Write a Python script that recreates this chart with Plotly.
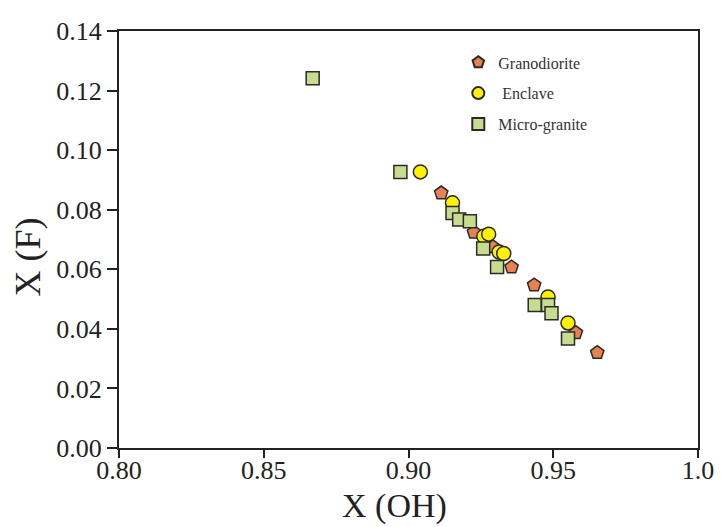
import plotly.graph_objects as go

# Granodiorite (pentagons)
grano_oh = [0.9113, 0.9226, 0.9272, 0.9292, 0.9356, 0.9434, 0.9578, 0.9652]
grano_f = [0.0856, 0.0724, 0.0681, 0.0675, 0.0607, 0.0547, 0.0387, 0.0320]

# Enclave (circles)
encl_oh = [0.9041, 0.9152, 0.9260, 0.9277, 0.9313, 0.9329, 0.9482, 0.9551]
encl_f = [0.0927, 0.0823, 0.0711, 0.0718, 0.0658, 0.0653, 0.0507, 0.0420]

# Micro-granite (squares)
micro_oh = [0.8669, 0.8972, 0.9152, 0.9175, 0.9212, 0.9258, 0.9306,
            0.9436, 0.9482, 0.9494, 0.9551]
micro_f = [0.1241, 0.0927, 0.0789, 0.0767, 0.0761, 0.0670, 0.0608,
           0.0480, 0.0480, 0.0452, 0.0368]

x_ticks = [0.80, 0.85, 0.90, 0.95, 1.0]
x_ticklabels = ["0.80", "0.85", "0.90", "0.95", "1.0"]
y_ticks = [0.00, 0.02, 0.04, 0.06, 0.08, 0.10, 0.12, 0.14]

serif = "Liberation Serif, Times New Roman, serif"
edge = dict(color="#2a2a2a", width=1.5)

fig = go.Figure()
fig.add_trace(go.Scatter(
    x=grano_oh, y=grano_f, mode="markers", name="Granodiorite",
    legendgroup="g1",
    marker=dict(symbol="pentagon", size=14, color="#E9804F", line=edge),
))
fig.add_trace(go.Scatter(
    x=encl_oh, y=encl_f, mode="markers", name=" Enclave",
    legendgroup="g2",
    marker=dict(symbol="circle", size=14, color="#FFF200", line=edge),
))
fig.add_trace(go.Scatter(
    x=micro_oh, y=micro_f, mode="markers", name="Micro-granite",
    legendgroup="g3",
    marker=dict(symbol="square", size=13, color="#C8DC8E", line=edge),
))

axis_common = dict(
    automargin=False, showgrid=False, zeroline=False,
    showline=True, linecolor="#222", linewidth=2, mirror=True,
    ticks="outside", tickwidth=1.5, tickcolor="#222",
    tickfont=dict(size=26, family=serif, color="#222"),
)

fig.update_layout(
    width=721, height=527,
    margin=dict(l=119, r=23, t=30.5, b=79),
    paper_bgcolor="white", plot_bgcolor="white",
    font=dict(family=serif, color="#222"),
    showlegend=True,
    legend=dict(
        x=0.586, y=0.9655, xanchor="left", yanchor="top",
        bgcolor="rgba(0,0,0,0)", font=dict(size=16, family=serif, color="#333"),
        tracegroupgap=7, itemsizing="constant",
    ),
    xaxis=dict(
        range=[0.80, 1.0], tickvals=x_ticks, ticktext=x_ticklabels,
        ticklen=8, ticklabelstandoff=-10, **axis_common,
    ),
    yaxis=dict(
        range=[0.0, 0.14], tickvals=y_ticks, tickformat=".2f",
        ticklen=10, **axis_common,
    ),
    annotations=[
        dict(text="X (OH)", xref="paper", yref="paper", x=0.475, y=-0.139,
             xanchor="center", yanchor="middle", showarrow=False,
             font=dict(size=34, family=serif, color="#222")),
        dict(text="X (F)", xref="paper", yref="paper", x=-0.157, y=0.457,
             xanchor="center", yanchor="middle", showarrow=False, textangle=-90,
             font=dict(size=36, family=serif, color="#222")),
    ],
)

fig.write_html("out.html")
